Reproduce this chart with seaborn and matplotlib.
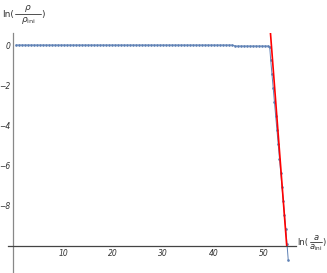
import numpy as np
import pandas as pd
import matplotlib
matplotlib.use("Agg")
import matplotlib.pyplot as plt
import seaborn as sns
from matplotlib.ticker import MultipleLocator
from matplotlib.lines import Line2D

# flat part of ln(rho/rho_ini) vs ln(a/a_ini)
flat_x = [0.6, 1.2, 1.8, 2.4, 3.0, 3.6, 4.2, 4.8, 5.4, 6.0, 6.6, 7.2, 7.8, 8.4, 9.0, 9.6,
          10.2, 10.8, 11.4, 12.0, 12.6, 13.2, 13.8, 14.4, 15.0, 15.6, 16.2, 16.8, 17.4,
          18.0, 18.6, 19.2, 19.8, 20.4, 21.0, 21.6, 22.2, 22.8, 23.4, 24.0, 24.6, 25.2,
          25.8, 26.4, 27.0, 27.6, 28.2, 28.8, 29.4, 30.0, 30.6, 31.2, 31.8, 32.4, 33.0,
          33.6, 34.2, 34.8, 35.4, 36.0, 36.6, 37.2, 37.8, 38.4, 39.0, 39.6, 40.2, 40.8,
          41.4, 42.0, 42.6, 43.2, 43.8,
          44.4, 45.0, 45.6, 46.2, 46.8, 47.4, 48.0, 48.6, 49.2, 49.8, 50.4, 51.0]
flat_y = [0.0] * 73 + [-0.05] * 12

# steep drop at the end
drop_x = [51.25, 51.45, 51.7, 51.95, 52.2, 52.45, 52.7, 52.95, 53.2, 53.45, 53.7,
          53.95, 54.2, 54.45, 54.7, 54.95]
drop_y = [-0.1, -0.75, -1.45, -2.15, -2.85, -3.55, -4.25, -4.95, -5.65, -6.35, -7.05,
          -7.75, -8.45, -9.15, -9.9, -10.7]

# fitted red line
fit_x = [51.4, 54.65]
fit_y = [0.6, -10.0]

df = pd.DataFrame({"lna": flat_x + drop_x, "lnrho": flat_y + drop_y})
fit = pd.DataFrame({"lna": fit_x, "lnrho": fit_y})

sns.set_style("white")
plt.rcParams["font.family"] = ["DejaVu Sans"]
plt.rcParams["mathtext.fontset"] = "dejavusans"

W, H = 327, 273
fig = plt.figure(figsize=(W / 100, H / 100), dpi=100)
ax = fig.add_axes([8 / W, 0.0, 288 / W, 240 / H])

sns.lineplot(data=df, x="lna", y="lnrho", sort=False, color="#5E81B5", lw=0.7,
             marker="o", markersize=1.9, markeredgewidth=0, ax=ax)
sns.lineplot(data=fit, x="lna", y="lnrho", sort=False, color="#FF0000", lw=1.2, ax=ax)

ax.set_xlim(-1.0, 56.5)
ax.set_ylim(-11.35, 0.6)

for s in ["top", "right"]:
    ax.spines[s].set_visible(False)
ax.spines["left"].set_position(("data", 0))
ax.spines["bottom"].set_position(("data", -10))
ax.spines["left"].set_color("#888888")
ax.spines["bottom"].set_color("#444444")
ax.spines["left"].set_linewidth(0.9)
ax.spines["bottom"].set_linewidth(0.9)

ax.set_xticks([10, 20, 30, 40, 50])
ax.set_yticks([0, -2, -4, -6, -8])
ax.xaxis.set_minor_locator(MultipleLocator(2))
ax.yaxis.set_minor_locator(MultipleLocator(0.5))
ax.tick_params(axis="both", which="major", direction="in", length=3, width=0.6,
               labelsize=5.5, colors="#333333", pad=2)
ax.tick_params(axis="both", which="minor", direction="in", length=1.8, width=0.5,
               colors="#333333")
for lab in ax.get_xticklabels() + ax.get_yticklabels():
    lab.set_fontstyle("italic")
ax.set_xlabel("")
ax.set_ylabel("")


def frac_label(x0, yc, num, den, bar_w, fs):
    # "ln(" + fraction + ")" placed in pixel coords
    px = lambda x, y: (x / W, 1 - y / H)
    fig.text(*px(x0, yc), "ln(", ha="left", va="center", fontsize=fs, color="#333333")
    bx = x0 + 13
    fig.text(*px(bx + bar_w / 2, yc - 5), num, ha="center", va="center",
             fontsize=fs, color="#333333")
    fig.text(*px(bx + bar_w / 2, yc + 6), den, ha="center", va="center",
             fontsize=fs, color="#333333")
    fig.add_artist(Line2D([bx / W, (bx + bar_w) / W], [1 - yc / H, 1 - yc / H],
                          color="#333333", lw=0.6))
    fig.text(*px(bx + bar_w, yc), ")", ha="left", va="center",
             fontsize=fs, color="#333333")


frac_label(2, 14, r"$\rho$", r"$\rho_{\mathrm{ini}}$", 26, 6.5)
frac_label(297, 242, r"$a$", r"$a_{\mathrm{ini}}$", 12, 6.0)

fig.savefig("out.png", dpi=100)
